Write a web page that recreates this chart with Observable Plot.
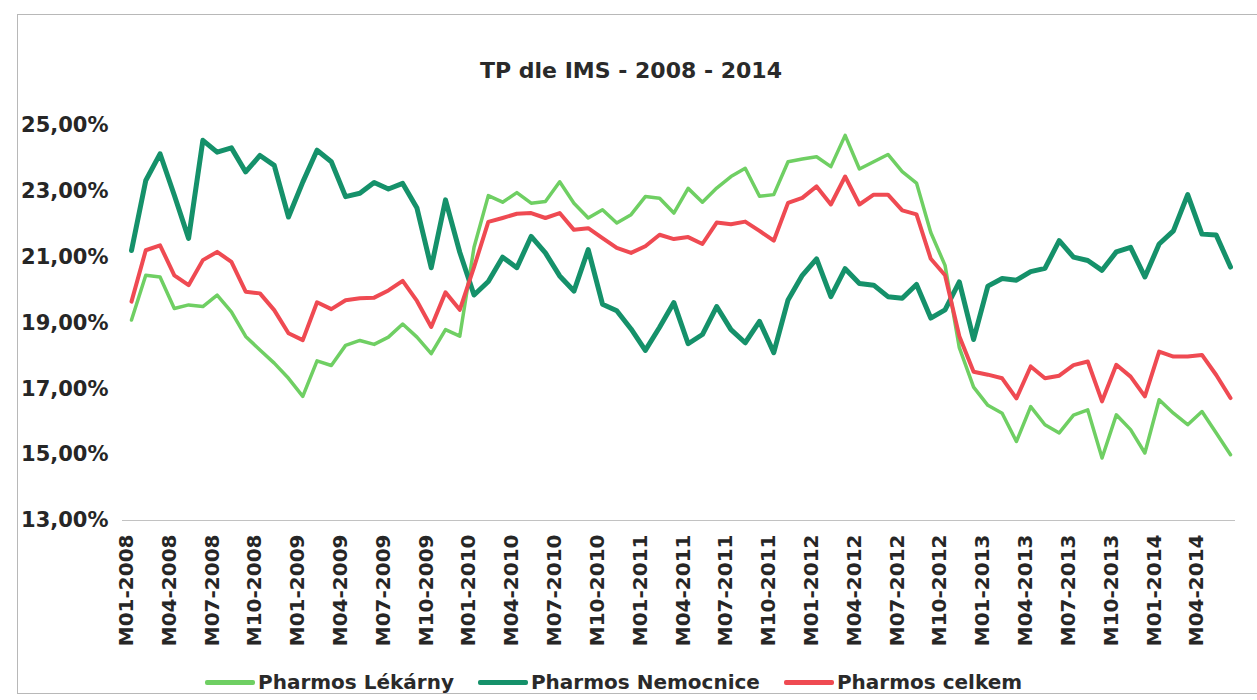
<!DOCTYPE html>
<html><head><meta charset="utf-8">
<script src="https://cdn.jsdelivr.net/npm/d3@7"></script>
<script src="https://cdn.jsdelivr.net/npm/@observablehq/plot@0.6"></script>
<style>
body{margin:0;background:#fff;width:1257px;height:700px;overflow:hidden;position:relative;font-family:"DejaVu Sans",sans-serif;}
#frame{position:absolute;left:17px;top:14px;width:1250px;height:678px;border:1.5px solid #b8b8b8;border-right:none;}
#title{position:absolute;left:0;width:1262px;top:58px;text-align:center;font-weight:bold;font-size:22px;color:#2a2a2a;}
#chart{position:absolute;left:0;top:100px;}
#legend{position:absolute;top:670px;left:205px;display:flex;align-items:center;font-weight:bold;font-size:20px;color:#2a2a2a;white-space:nowrap;}
.item{display:flex;align-items:center;margin-right:24px;}
.sw{display:inline-block;width:50px;height:5px;margin-right:3px;border-radius:2px;}
</style></head><body>
<div id="frame"></div>
<div id="title">TP dle IMS - 2008 - 2014</div>
<div id="chart"></div>
<div id="legend"></div>
<script>
const months = [
"M01-2008","M02-2008","M03-2008","M04-2008","M05-2008","M06-2008","M07-2008","M08-2008","M09-2008","M10-2008","M11-2008","M12-2008",
"M01-2009","M02-2009","M03-2009","M04-2009","M05-2009","M06-2009","M07-2009","M08-2009","M09-2009","M10-2009","M11-2009","M12-2009",
"M01-2010","M02-2010","M03-2010","M04-2010","M05-2010","M06-2010","M07-2010","M08-2010","M09-2010","M10-2010","M11-2010","M12-2010",
"M01-2011","M02-2011","M03-2011","M04-2011","M05-2011","M06-2011","M07-2011","M08-2011","M09-2011","M10-2011","M11-2011","M12-2011",
"M01-2012","M02-2012","M03-2012","M04-2012","M05-2012","M06-2012","M07-2012","M08-2012","M09-2012","M10-2012","M11-2012","M12-2012",
"M01-2013","M02-2013","M03-2013","M04-2013","M05-2013","M06-2013","M07-2013","M08-2013","M09-2013","M10-2013","M11-2013","M12-2013",
"M01-2014","M02-2014","M03-2014","M04-2014","M05-2014","M06-2014"];

const xTickLabels = ["M01-2008","M04-2008","M07-2008","M10-2008","M01-2009","M04-2009","M07-2009","M10-2009",
"M01-2010","M04-2010","M07-2010","M10-2010","M01-2011","M04-2011","M07-2011","M10-2011",
"M01-2012","M04-2012","M07-2012","M10-2012","M01-2013","M04-2013","M07-2013","M10-2013",
"M01-2014","M04-2014"];

const yTicks = [13, 15, 17, 19, 21, 23, 25];

const seriesNames = ["Pharmos Lékárny", "Pharmos Nemocnice", "Pharmos celkem"];
const seriesColors = ["#6fcf63", "#15916a", "#ef4a52"];

const lekarny = [
19.09,20.45,20.40,19.44,19.55,19.50,19.85,19.34,18.59,18.18,17.78,17.32,
16.77,17.85,17.71,18.32,18.47,18.35,18.57,18.97,18.57,18.07,18.80,18.60,
21.30,22.87,22.67,22.96,22.64,22.69,23.29,22.64,22.19,22.44,22.04,22.29,
22.84,22.79,22.34,23.09,22.67,23.10,23.45,23.70,22.85,22.90,23.90,23.98,
24.05,23.75,24.70,23.68,23.90,24.12,23.60,23.25,21.75,20.75,18.25,17.05,
16.50,16.26,15.40,16.46,15.91,15.66,16.20,16.36,14.90,16.21,15.76,15.05,
16.67,16.26,15.91,16.31,15.66,15.00];

const nemocnice = [
21.20,23.33,24.14,22.88,21.57,24.55,24.19,24.32,23.59,24.09,23.79,22.22,
23.28,24.25,23.90,22.84,22.94,23.27,23.07,23.24,22.49,20.68,22.74,21.15,
19.85,20.26,21.00,20.68,21.63,21.13,20.43,19.97,21.23,19.57,19.37,18.82,
18.17,18.87,19.62,18.37,18.65,19.50,18.80,18.40,19.05,18.10,19.70,20.45,
20.95,19.80,20.65,20.20,20.15,19.80,19.75,20.17,19.15,19.40,20.25,18.50,
20.12,20.35,20.30,20.56,20.66,21.50,21.00,20.90,20.60,21.16,21.30,20.40,
21.40,21.80,22.90,21.70,21.67,20.70];

const celkem = [
19.65,21.21,21.36,20.45,20.15,20.91,21.16,20.86,19.95,19.90,19.39,18.69,
18.48,19.63,19.42,19.69,19.75,19.77,19.99,20.28,19.67,18.88,19.93,19.40,
20.70,22.07,22.19,22.32,22.34,22.19,22.34,21.83,21.88,21.58,21.28,21.13,
21.33,21.68,21.55,21.61,21.40,22.05,22.00,22.08,21.80,21.50,22.65,22.80,
23.15,22.60,23.45,22.60,22.90,22.90,22.42,22.30,20.95,20.45,18.60,17.52,
17.43,17.32,16.71,17.68,17.32,17.40,17.72,17.83,16.62,17.73,17.37,16.77,
18.13,17.98,17.98,18.03,17.42,16.72];

const seriesValues = [lekarny, nemocnice, celkem];
const strokeWidths = [3.5, 5, 4];

const rows = seriesValues.map(vals => vals.map((v, i) => ({idx: i, month: months[i], value: v})));
const tickIdx = xTickLabels.map(l => months.indexOf(l));

const chart = Plot.plot({
  width: 1257, height: 550,
  marginLeft: 122, marginRight: 22, marginTop: 25, marginBottom: 130,
  style: {fontFamily: "DejaVu Sans, sans-serif", fontWeight: "bold", color: "#262626", background: "transparent", overflow: "visible"},
  x: {type: "linear", domain: [0, months.length - 1], range: [131, 1230], label: null},
  y: {domain: [13, 25], label: null},
  marks: [
    Plot.gridY(yTicks, {stroke: "#d6d6d6", strokeOpacity: 1, x1: 122, x2: 1235}),
    Plot.ruleY([13], {stroke: "#c2c2c2"}),
    Plot.axisY(yTicks, {tickSize: 0, tickPadding: 14, fontSize: 21, label: null,
      tickFormat: d => d.toFixed(2).replace(".", ",") + "%"}),
    Plot.axisX(tickIdx, {tickSize: 0, tickRotate: -90, tickPadding: 14, fontSize: 20, label: null, dx: -5,
      tickFormat: i => months[i]}),
    ...rows.map((r, k) => Plot.line(r, {x: "idx", y: "value", stroke: seriesColors[k],
      strokeWidth: strokeWidths[k], strokeLinejoin: "round", strokeLinecap: "round"}))
  ]
});
document.getElementById("chart").appendChild(chart);

const legend = document.getElementById("legend");
seriesNames.forEach((name, k) => {
  const item = document.createElement("div");
  item.className = "item";
  const sw = document.createElement("span");
  sw.className = "sw";
  sw.style.background = seriesColors[k];
  const t = document.createElement("span");
  t.textContent = name;
  item.appendChild(sw); item.appendChild(t);
  legend.appendChild(item);
});
</script>
</body></html>
